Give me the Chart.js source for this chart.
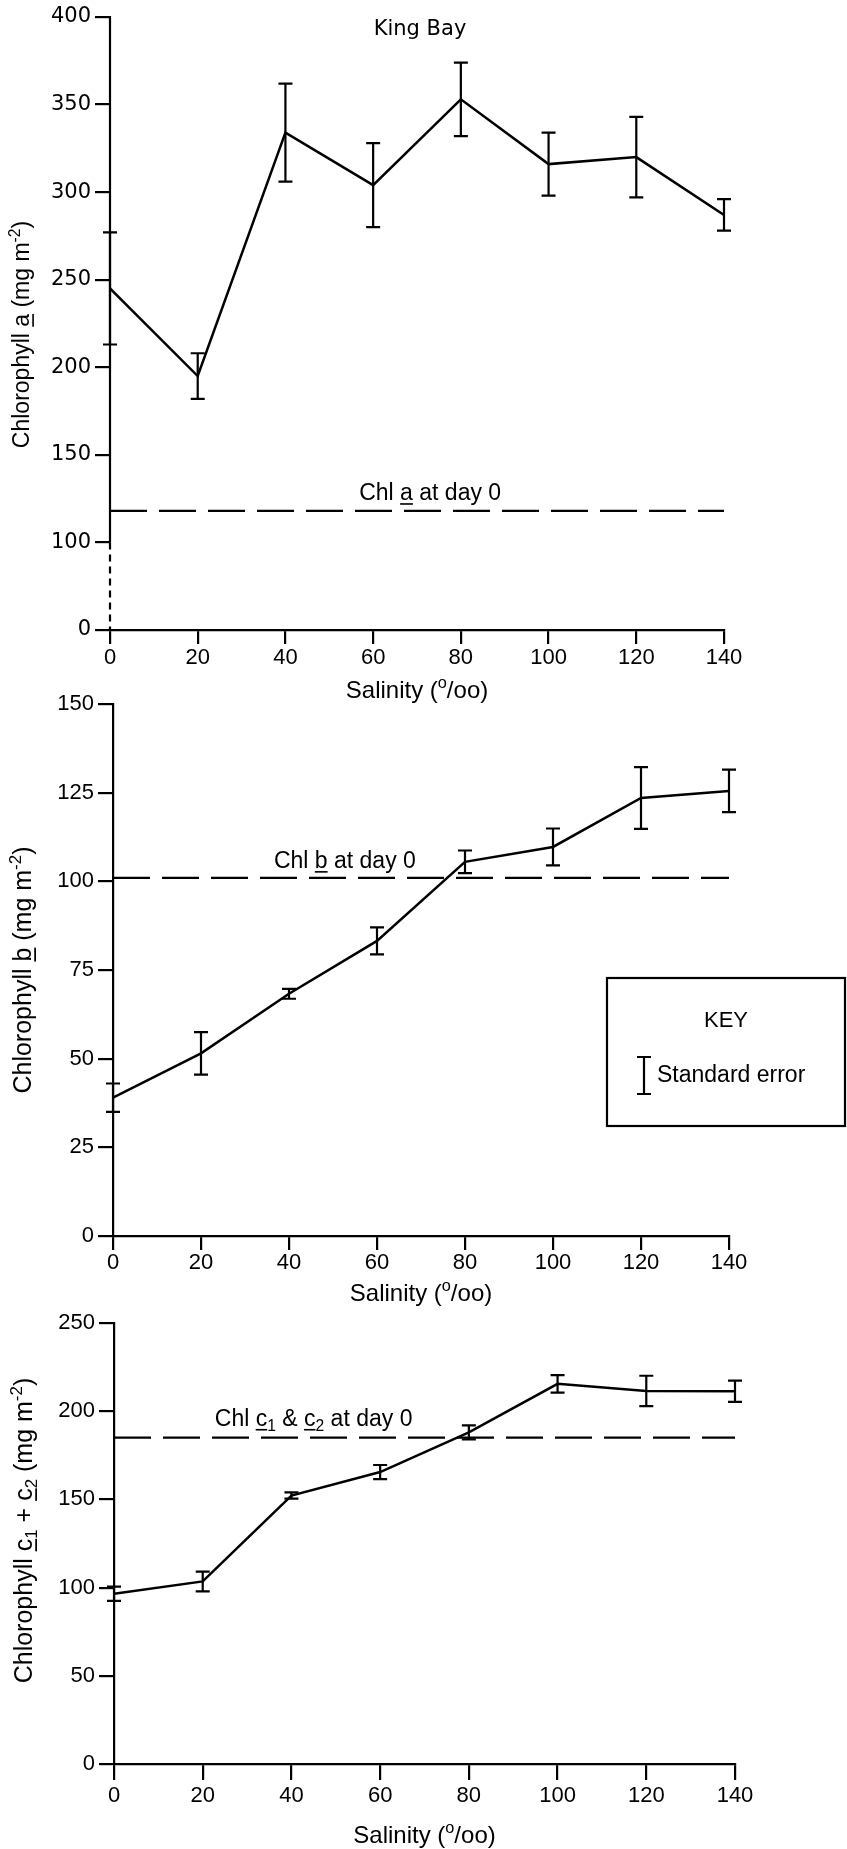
<!DOCTYPE html>
<html>
<head>
<meta charset="utf-8">
<script src="https://cdn.jsdelivr.net/npm/chart.js@4.4.0/dist/chart.umd.min.js"></script>
<style>
  html, body { margin: 0; padding: 0; background: #ffffff; }
  #wrap { position: relative; width: 847px; height: 1849px; background: #ffffff; overflow: hidden; }
  #wrap canvas { position: absolute; left: 0; top: 0; }
</style>
</head>
<body>
<div id="wrap">
  <canvas id="cA" width="847" height="1849"></canvas>
  <canvas id="cB" width="847" height="1849"></canvas>
  <canvas id="cC" width="847" height="1849"></canvas>
</div>
<script>
// ---------------- DATA ----------------
const salinity = [0, 20, 40, 60, 80, 100, 120, 140];
const xTickLabels = ['0', '20', '40', '60', '80', '100', '120', '140'];

const chlA    = [245, 195, 334, 304, 353, 316, 320, 287];
const chlAErr = [32, 13, 28, 24, 21, 18, 23, 9];
const chlADay0 = 118;
const yTicksA = [50, 100, 150, 200, 250, 300, 350, 400];      // 50 is the broken-axis origin
const yTickLabelsA = ['0', '100', '150', '200', '250', '300', '350', '400'];

const chlB    = [39, 51.5, 68.3, 83.2, 105.5, 109.7, 123.5, 125.5];
const chlBErr = [4, 6, 1.4, 3.8, 3.2, 5.2, 8.7, 6];
const chlBDay0 = 101;
const yTicksB = [0, 25, 50, 75, 100, 125, 150];

const chlC    = [96.5, 103.5, 152.2, 165.5, 188, 215.5, 211.5, 211.3];
const chlCErr = [4, 5.6, 1.8, 4, 4, 5, 8.6, 6];
const chlCDay0 = 185;
const yTicksC = [0, 50, 100, 150, 200, 250];

// ---------------- STYLE / LAYOUT ----------------
const INK = '#000000';
const FONT_WIDE = "'DejaVu Sans', sans-serif";
const FONT_STD = "'Liberation Sans', Arial, Helvetica, sans-serif";
const PAGE_W = 847, PAGE_H = 1849;

function drawRich(ctx, segs, cx, cy, size, family, rotate) {
  ctx.save();
  ctx.translate(cx, cy);
  if (rotate) ctx.rotate(-Math.PI / 2);
  let total = 0;
  const parts = segs.map(s => {
    const fs = (s.sup || s.sub) ? size * 0.68 : size;
    ctx.font = fs + 'px ' + family;
    const w = ctx.measureText(s.t).width;
    total += w;
    return { s, fs, w };
  });
  let x = -total / 2;
  const base = size * 0.36;
  ctx.fillStyle = INK;
  ctx.textBaseline = 'alphabetic';
  ctx.textAlign = 'left';
  for (const p of parts) {
    ctx.font = p.fs + 'px ' + family;
    let y = base;
    if (p.s.sup) y -= size * 0.42;
    if (p.s.sub) y += size * 0.2;
    ctx.fillText(p.s.t, x, y);
    if (p.s.u) ctx.fillRect(x, base + size * 0.13, p.w, Math.max(1.4, size * 0.07));
    x += p.w;
  }
  ctx.restore();
}

const salinityTitle = [{ t: 'Salinity (' }, { t: 'o', sup: true }, { t: '/oo)' }];

const panels = [
  {
    canvas: 'cA', values: chlA, errors: chlAErr, day0: chlADay0,
    yMin: 50, yMax: 400, yStep: 50, yTicks: yTicksA, yLabels: yTickLabelsA,
    L: 110, R: 724, T: 17, B: 630, XH: 75,
    tickFont: { family: FONT_WIDE, size: 21 }, xTickFont: { family: FONT_STD, size: 22 },
    xTickPad: 1, tickLen: 14,
    yTitle: [{ t: 'Chlorophyll ' }, { t: 'a', u: true }, { t: ' (mg m' }, { t: '-2', sup: true }, { t: ')' }],
    yTitleFont: FONT_STD, yTitleSize: 23, yTitleX: 21, yTitleShift: 11,
    xTitleDy: 59,
    day0Label: [{ t: 'Chl ' }, { t: 'a', u: true }, { t: ' at day 0' }], day0LabelAt: 73, day0LabelDy: 19,
    brokenAxis: true, kingBay: true
  },
  {
    canvas: 'cB', values: chlB, errors: chlBErr, day0: chlBDay0,
    yMin: 0, yMax: 150, yStep: 25, yTicks: yTicksB, yLabels: null,
    L: 113, R: 729, T: 704, B: 1236, XH: 75,
    tickFont: { family: FONT_STD, size: 22 }, xTickFont: { family: FONT_STD, size: 22 },
    xTickPad: 0, tickLen: 14,
    yTitle: [{ t: 'Chlorophyll ' }, { t: 'b', u: true }, { t: ' (mg m' }, { t: '-2', sup: true }, { t: ')' }],
    yTitleFont: FONT_STD, yTitleSize: 25, yTitleX: 22, yTitleShift: 0,
    xTitleDy: 56,
    day0Label: [{ t: 'Chl ' }, { t: 'b', u: true }, { t: ' at day 0' }], day0LabelAt: 52.7, day0LabelDy: 18,
    key: true
  },
  {
    canvas: 'cC', values: chlC, errors: chlCErr, day0: chlCDay0,
    yMin: 0, yMax: 250, yStep: 50, yTicks: yTicksC, yLabels: null,
    L: 114, R: 735, T: 1323, B: 1764, XH: 80,
    tickFont: { family: FONT_STD, size: 22 }, xTickFont: { family: FONT_STD, size: 22 },
    xTickPad: 3, tickLen: 16,
    yTitle: [{ t: 'Chlorophyll ' }, { t: 'c', u: true }, { t: '1', sub: true }, { t: ' + ' }, { t: 'c', u: true }, { t: '2', sub: true }, { t: ' (mg m' }, { t: '-2', sup: true }, { t: ')' }],
    yTitleFont: FONT_STD, yTitleSize: 25, yTitleX: 23, yTitleShift: -13,
    xTitleDy: 70,
    day0Label: [{ t: 'Chl ' }, { t: 'c', u: true }, { t: '1', sub: true }, { t: ' & ' }, { t: 'c', u: true }, { t: '2', sub: true }, { t: ' at day 0' }], day0LabelAt: 45, day0LabelDy: 20
  }
];

const decorPlugin = {
  id: 'decor',
  afterDatasetsDraw(chart, args, opts) {
    const P = opts.panel;
    const ctx = chart.ctx;
    const xs = chart.scales.x, ys = chart.scales.y;
    // error bars
    ctx.save();
    ctx.strokeStyle = INK;
    ctx.lineWidth = 2.2;
    const cap = 7;
    salinity.forEach((s, i) => {
      const px = xs.getPixelForValue(s);
      const hi = ys.getPixelForValue(P.values[i] + P.errors[i]);
      const lo = ys.getPixelForValue(P.values[i] - P.errors[i]);
      ctx.beginPath();
      ctx.moveTo(px, hi); ctx.lineTo(px, lo);
      ctx.moveTo(px - cap, hi); ctx.lineTo(px + cap, hi);
      ctx.moveTo(px - cap, lo); ctx.lineTo(px + cap, lo);
      ctx.stroke();
    });
    // broken y-axis (panel a)
    if (P.brokenAxis) {
      const ax = chart.chartArea.left;
      ctx.lineWidth = 2.2;
      ctx.beginPath();
      ctx.moveTo(ax, ys.getPixelForValue(P.yMax) - 1);
      ctx.lineTo(ax, ys.getPixelForValue(yTicksA[1]));
      ctx.stroke();
      ctx.setLineDash([7, 5]);
      ctx.beginPath();
      ctx.moveTo(ax, ys.getPixelForValue(yTicksA[1]));
      ctx.lineTo(ax, ys.getPixelForValue(P.yMin));
      ctx.stroke();
      ctx.setLineDash([]);
    }
    ctx.restore();
  },
  afterDraw(chart, args, opts) {
    const P = opts.panel;
    const ctx = chart.ctx;
    const ca = chart.chartArea;
    const xs = chart.scales.x, ys = chart.scales.y;
    // axis titles
    drawRich(ctx, P.yTitle, P.yTitleX, (ca.top + ca.bottom) / 2 + P.yTitleShift, P.yTitleSize, P.yTitleFont, true);
    drawRich(ctx, salinityTitle, (ca.left + ca.right) / 2, ca.bottom + P.xTitleDy, 24, FONT_STD, false);
    // day-0 label
    drawRich(ctx, P.day0Label, xs.getPixelForValue(P.day0LabelAt), ys.getPixelForValue(P.day0) - P.day0LabelDy, 23, FONT_STD, false);
    if (P.kingBay) {
      drawRich(ctx, [{ t: 'King Bay' }], 420, 27, 21, FONT_WIDE, false);
    }
    if (P.key) {
      ctx.save();
      ctx.strokeStyle = INK;
      ctx.lineWidth = 2.2;
      ctx.strokeRect(607, 978, 238, 148);
      ctx.beginPath();
      ctx.moveTo(644, 1057); ctx.lineTo(644, 1094);
      ctx.moveTo(637, 1057); ctx.lineTo(651, 1057);
      ctx.moveTo(637, 1094); ctx.lineTo(651, 1094);
      ctx.stroke();
      ctx.restore();
      drawRich(ctx, [{ t: 'KEY' }], 726, 1019, 22, FONT_STD, false);
      ctx.save();
      ctx.font = '23px ' + FONT_STD;
      ctx.fillStyle = INK;
      ctx.textAlign = 'left';
      ctx.textBaseline = 'alphabetic';
      ctx.fillText('Standard error', 657, 1074 + 23 * 0.36);
      ctx.restore();
    }
  }
};

panels.forEach(P => {
  const ctx = document.getElementById(P.canvas).getContext('2d');
  new Chart(ctx, {
    type: 'line',
    data: {
      datasets: [
        {
          data: salinity.map((s, i) => ({ x: s, y: P.values[i] })),
          borderColor: INK, borderWidth: 2.5, pointRadius: 0, tension: 0, fill: false
        },
        {
          data: [{ x: salinity[0], y: P.day0 }, { x: salinity[salinity.length - 1], y: P.day0 }],
          borderColor: INK, borderWidth: 2.2, borderDash: [37, 12], pointRadius: 0, fill: false
        }
      ]
    },
    options: {
      responsive: false,
      animation: false,
      devicePixelRatio: 1,
      events: [],
      layout: { padding: { left: 0, top: P.T, right: PAGE_W - P.R, bottom: PAGE_H - P.B - P.XH } },
      plugins: { legend: { display: false }, tooltip: { enabled: false }, decor: { panel: P } },
      scales: {
        x: {
          type: 'linear', min: 0, max: 140,
          afterFit(s) { s.height = P.XH; },
          afterBuildTicks(s) { s.ticks = salinity.map(v => ({ value: v })); },
          border: { display: true, color: INK, width: 2.2 },
          grid: { display: true, drawOnChartArea: false, drawTicks: true, tickLength: P.tickLen, color: INK, lineWidth: 2.2 },
          ticks: {
            color: INK, font: P.xTickFont, padding: P.xTickPad, maxRotation: 0, autoSkip: false,
            callback(v) { const i = salinity.indexOf(v); return i >= 0 ? xTickLabels[i] : ''; }
          },
          title: { display: false }
        },
        y: {
          type: 'linear', min: P.yMin, max: P.yMax,
          afterFit(s) { s.width = P.L; },
          afterBuildTicks(s) { s.ticks = P.yTicks.map(v => ({ value: v })); },
          border: { display: !P.brokenAxis, color: INK, width: 2.2 },
          grid: { display: true, drawOnChartArea: false, drawTicks: true, tickLength: 15, color: INK, lineWidth: 2.2 },
          ticks: {
            color: INK, font: P.tickFont, padding: 4, autoSkip: false,
            callback(v) {
              if (P.yLabels) { const i = P.yTicks.indexOf(v); return i >= 0 ? P.yLabels[i] : ''; }
              return String(v);
            }
          },
          title: { display: false }
        }
      }
    },
    plugins: [decorPlugin]
  });
});
</script>
</body>
</html>
